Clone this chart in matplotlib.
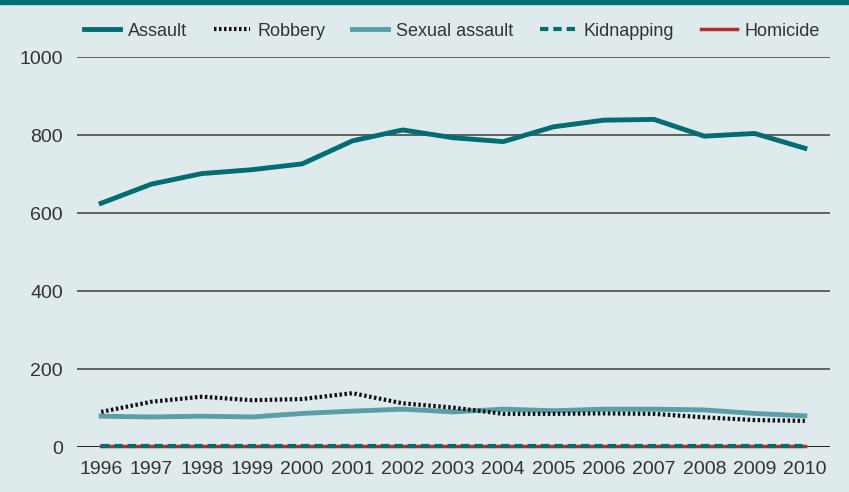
import matplotlib
matplotlib.use("Agg")
import matplotlib.pyplot as plt
from matplotlib.patches import Rectangle

plt.rcParams['font.family'] = ['Liberation Sans', 'DejaVu Sans']

years = [1996, 1997, 1998, 1999, 2000, 2001, 2002, 2003, 2004, 2005, 2006, 2007, 2008, 2009, 2010]
assault = [625, 674, 701, 711, 726, 785, 813, 793, 783, 821, 838, 840, 797, 804, 766]
robbery = [90, 116, 129, 120, 123, 138, 112, 101, 85, 85, 86, 85, 76, 69, 67]
sexual_assault = [79, 77, 79, 77, 86, 92, 97, 90, 97, 93, 97, 97, 95, 86, 80]
kidnapping = [3, 3, 3, 3, 3, 3, 3, 3, 3, 3, 3, 3, 3, 3, 3]
homicide = [2, 2, 2, 2, 2, 2, 2, 2, 2, 2, 2, 2, 2, 2, 2]

bg = '#dfeaec'
teal = '#006e70'
light_teal = '#5a9ea6'
red = '#b0302a'
txt = '#333333'

fig = plt.figure(figsize=(8.49, 4.92), dpi=100, facecolor=bg)
ax = fig.add_axes([77/849, 1-447/492, (830-77)/849, (447-57)/492])
ax.set_facecolor(bg)

# top band
fig.patches.append(Rectangle((0, 1-4/492), 1, 4/492, transform=fig.transFigure,
                             color=teal, zorder=5))

ax.plot(years, homicide, color=red, lw=2.5, label='Homicide', clip_on=False, zorder=3)
ax.plot(years, kidnapping, color=teal, lw=3, ls=(0, (2, 1.2)), label='Kidnapping', clip_on=False, zorder=4)
ax.plot(years, sexual_assault, color=light_teal, lw=3.5, label='Sexual assault', zorder=3)
ax.plot(years, robbery, color='#111111', lw=3, ls=(0, (0.6, 0.6)), label='Robbery', zorder=3)
ax.plot(years, assault, color=teal, lw=3.5, label='Assault', zorder=3)

ax.set_xlim(1995.52, 2010.5)
ax.set_ylim(0, 1000)
ax.set_yticks([0, 200, 400, 600, 800, 1000])
ax.set_xticks(years)
ax.set_xticklabels([str(y) for y in years])
ax.grid(axis='y', color='#4a4a4a', lw=1.2)
ax.axhline(0, color='#111111', lw=1.8, zorder=2)
ax.set_axisbelow(True)
for s in ax.spines.values():
    s.set_visible(False)
ax.tick_params(axis='both', length=0, labelsize=14, colors=txt)
ax.tick_params(axis='y', pad=10)
ax.tick_params(axis='x', pad=10)

handles, labels = ax.get_legend_handles_labels()
order = [4, 3, 2, 1, 0]
fig.legend([handles[i] for i in order], [labels[i] for i in order],
           loc='center', bbox_to_anchor=(452/849, 1-31/492), ncol=5, frameon=False,
           fontsize=13, handlelength=2.0, handletextpad=0.4, columnspacing=1.5,
           labelcolor=txt)

fig.savefig('out.png', dpi=100, facecolor=bg)
